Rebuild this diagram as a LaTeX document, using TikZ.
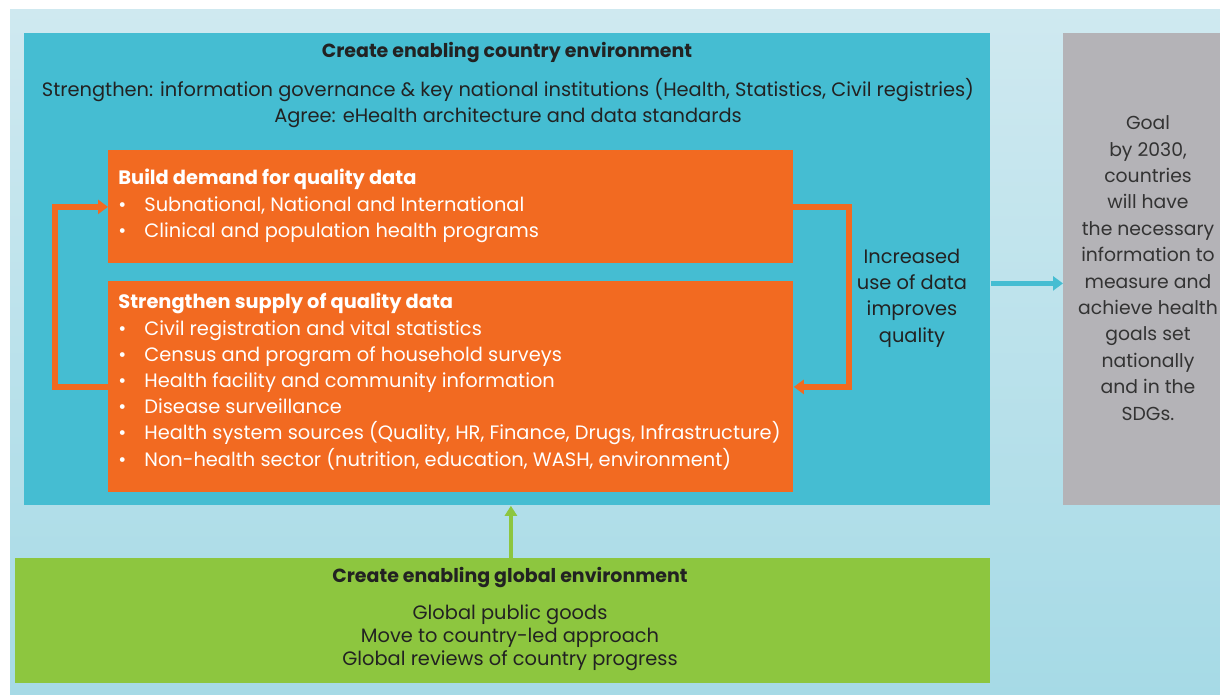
\documentclass[tikz,border=0pt]{standalone}
\usepackage{fontspec}
\setmainfont{Poppins}
\usetikzlibrary{arrows.meta}
\definecolor{bgtop}{HTML}{CFE9F0}
\definecolor{bgbot}{HTML}{A6DAE6}
\definecolor{envblue}{HTML}{45BDD2}
\definecolor{dataorange}{HTML}{F26A21}
\definecolor{goalgray}{HTML}{B4B3B7}
\definecolor{globalgreen}{HTML}{8DC63F}
\definecolor{inktext}{HTML}{222222}
\definecolor{graytext}{HTML}{333333}
\tikzset{
  panel/.style={draw=none, inner sep=0pt, anchor=north west},
  bodytext/.style={font=\fontsize{9.7}{13.2}\selectfont, text=inktext, align=center, inner sep=0pt},
  headtext/.style={font=\bfseries\fontsize{9.5}{13.2}\selectfont, text=inktext, inner sep=0pt},
  whitetext/.style={font=\fontsize{9.7}{13.1}\selectfont, text=white, align=left, inner sep=0pt, anchor=north west},
  loopline/.style={draw=dataorange, line width=3pt, line cap=rect},
  looparrow/.style={loopline, -{Triangle[length=5pt,width=7pt]}}
}
\begin{document}
\begin{tikzpicture}[x=0.5pt,y=-0.5pt]
\useasboundingbox (0,0) rectangle (1220,695);
\clip (0,0) rectangle (1220,695);
\fill[white] (0,0) rectangle (1220,695);
\shade[top color=bgtop, bottom color=bgbot] (10,10) rectangle (1220,695);

% panels
\node[panel, fill=envblue, minimum width=483pt, minimum height=236pt] (country) at (24,33) {};
\node[panel, fill=goalgray, minimum width=100pt, minimum height=236pt] (goal) at (1063,33) {};
\node[panel, fill=dataorange, minimum width=342.5pt, minimum height=56.5pt] (demand) at (108,150) {};
\node[panel, fill=dataorange, minimum width=342.5pt, minimum height=105.5pt] (supply) at (108,281) {};
\node[panel, fill=globalgreen, minimum width=487.5pt, minimum height=62.5pt] (global) at (15,558) {};

% country environment header
\node[headtext] (countryhead) at (507,53) {Create enabling country environment};
\node[bodytext] (countrytext) at (508,103) {Strengthen: information governance \& key national institutions (Health, Statistics, Civil registries)\\Agree: eHealth architecture and data standards};

% demand box text
\node[whitetext] (demandtext) at (118,169) {\textbf{Build demand for quality data}\\
\textbullet\hspace{9pt}Subnational, National and International\\
\textbullet\hspace{9pt}Clinical and population health programs};

% supply box text
\node[whitetext] (supplytext) at (118,293) {\textbf{Strengthen supply of quality data}\\
\textbullet\hspace{9pt}Civil registration and vital statistics\\
\textbullet\hspace{9pt}Census and program of household surveys\\
\textbullet\hspace{9pt}Health facility and community information\\
\textbullet\hspace{9pt}Disease surveillance\\
\textbullet\hspace{9pt}Health system sources (Quality, HR, Finance, Drugs, Infrastructure)\\
\textbullet\hspace{9pt}Non-health sector (nutrition, education, WASH, environment)};

% feedback loop between demand and supply
\draw[looparrow] (supply.west) -- ++(-53,0) |- (demand.west);
\draw[looparrow] (demand.east) -- ++(55,0) |- (supply.east);

\node[bodytext] (usetext) at (912,298) {Increased\\use of data\\improves\\quality};

% toward the goal
\draw[draw=envblue, line width=2.5pt, -{Triangle[length=5pt,width=7pt]}] ([yshift=-7pt]country.east) -- ([yshift=-7pt]goal.west);

\node[bodytext, text=graytext, font=\fontsize{9.4}{13.2}\selectfont] (goaltext) at (1148,268) {Goal\\by 2030,\\countries\\will have\\the necessary\\information to\\measure and\\achieve health\\goals set\\nationally\\and in the\\SDGs.};

% global environment
\node[headtext] (globalhead) at (510,577) {Create enabling global environment};
\node[bodytext, font=\fontsize{9.7}{11.6}\selectfont] (globaltext) at (510,638) {Global public goods\\Move to country-led approach\\Global reviews of country progress};
\draw[draw=globalgreen, line width=2pt, -{Triangle[length=5pt,width=6pt]}] ([xshift=4pt]global.north) -- ([xshift=4pt]global.north |- country.south);
\end{tikzpicture}
\end{document}
